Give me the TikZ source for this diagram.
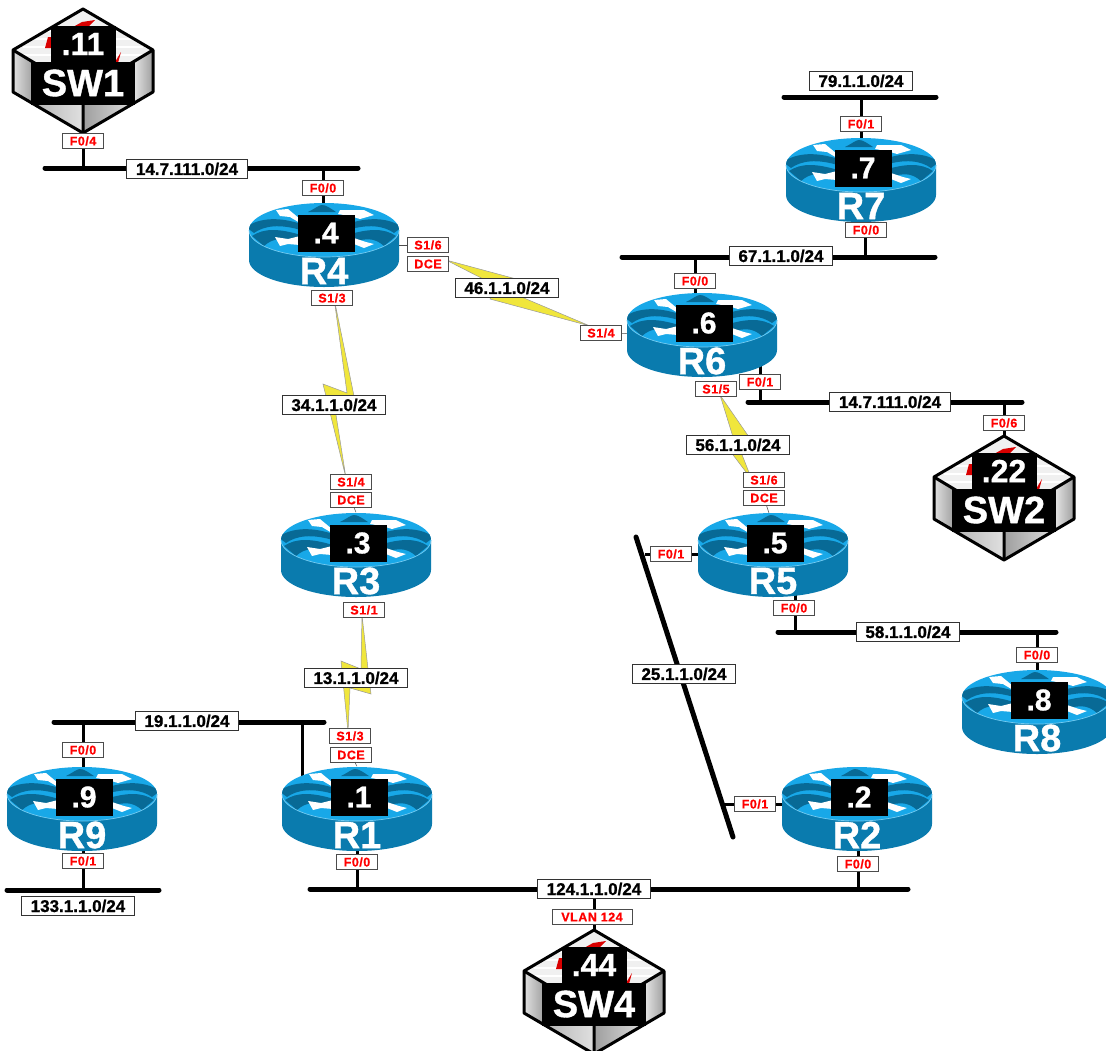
\documentclass[tikz,border=0pt]{standalone}
\usepackage{fontspec}
\setmainfont[BoldFeatures={FakeBold=1}]{Liberation Sans}
\usetikzlibrary{positioning}
\definecolor{routerbody}{HTML}{0A7BAE}
\definecolor{routertop}{HTML}{18A8E8}
\definecolor{routerdark}{HTML}{086A96}
\definecolor{boltyellow}{HTML}{F0E63C}
\tikzset{
	ifbox/.style={draw=black!70,line width=1pt,fill=white,text=red,inner sep=0pt,inner xsep=3pt,minimum width=41,minimum height=15,font=\fontsize{12.5}{14}\selectfont\bfseries\addfontfeature{LetterSpace=4}},
	netbox/.style={draw=black!80,line width=1pt,fill=white,text=black,inner sep=0pt,inner xsep=9pt,minimum height=19,font=\fontsize{17}{18}\selectfont\bfseries},
	lanbus/.style={line width=5pt,line cap=round},
	landrop/.style={line width=3pt},
	wanline/.style={line width=0.5pt,black!70},
	wanbolt/.style={fill=boltyellow,draw=black!40,line width=0.5pt},
	idbox/.style={fill=black,text=white,inner sep=0pt,font=\fontsize{30}{32}\selectfont\bfseries\addfontfeature{FakeBold=2}},
	pics/routerpic/.style 2 args={code={
		\node[minimum width=150,minimum height=85,inner sep=0pt] (-body) at (0,15) {};
		\fill[routerbody] (-75,0) -- (-75,30) arc (180:0:75 and 27) -- (75,0) -- cycle;
		\fill[routertop] (0,0) ellipse (75 and 27);
		\begin{scope}
			\clip (0,0) ellipse (75 and 27);
			\fill[routerdark] (-16,-18) .. controls (-8,-22) and (-5,-25) .. (-2,-25) .. controls (2,-25) and (6,-22) .. (12,-18) -- cycle;
			\foreach \s in {1,-1} {
				\begin{scope}[xscale=\s]
					\fill[routerdark] (-78,-3) .. controls (-65,-12) and (-45,-14) .. (-20,-5) -- (-20,1) .. controls (-45,-7) and (-60,-4) .. (-70,3) -- cycle;
					\fill[routerdark] (-72,6) .. controls (-60,-2) and (-45,-2) .. (-20,6) -- (-20,16) .. controls (-40,7) and (-50,7) .. (-60,16) -- cycle;
				\end{scope}
			}
		\end{scope}
		\fill[white] (-48,-20) -- (-36,-21) -- (-24,-11) -- (-24,-7) -- (-34,-13) -- (-44,-14) -- cycle;
		\fill[white] (-49,7) -- (-36,9) -- (-24,6) -- (-24,15) -- (-36,14) -- (-44,16) -- cycle;
		\fill[white] (14,-16) -- (16,-20) -- (40,-20) -- (50,-15) -- (36,-11) -- (26,-14) -- cycle;
		\fill[white] (30,8) -- (42,12) -- (50,14) -- (40,18) -- (30,14) -- cycle;
		\draw[routertop!60!white,line width=0.7pt] (-75,0) arc (180:0:75 and 27);
		\node[idbox,minimum width=57,minimum height=37] (-id) at (2,3) {#1};
		\node[text=white,inner sep=0pt,font=\fontsize{38}{40}\selectfont\bfseries\addfontfeature{FakeBold=2}] (-name) at (0,41) {#2};
	}},
	pics/switchpic/.style 2 args={code={
		\node[minimum width=140,minimum height=124,inner sep=0pt] (-body) at (0,0) {};
		\fill[black!6] (0,-62) -- (70,-21) -- (0,21) -- (-70,-21) -- cycle;
		\foreach \y in {-40,-32,-24,-16,-8} {
			\draw[white,line width=1.5pt] (-60,\y) -- (60,\y);
		}
		\fill[red!85!black] (-10,-44) -- (-1,-49) -- (12,-51) -- (5,-44) -- cycle;
		\fill[red!85!black] (-38,-23) -- (-35,-34) -- (-31,-34) -- (-31,-23) -- cycle;
		\fill[red!85!black] (32,-9) -- (38,-19) -- (35,-8) -- cycle;
		\fill[left color=black!12,right color=black!35] (-70,-21) -- (-52,-10) -- (-52,32) -- (-70,21) -- cycle;
		\fill[left color=black!30,right color=black!12] (-52,10) -- (0,10) -- (0,62) -- (-52,32) -- cycle;
		\fill[left color=black!38,right color=black!12] (52,10) -- (0,10) -- (0,62) -- (52,32) -- cycle;
		\fill[left color=black!12,right color=black!38] (70,-21) -- (52,-10) -- (52,32) -- (70,21) -- cycle;
		\draw[line width=3pt,line join=round] (0,-62) -- (70,-21) -- (70,21) -- (0,62) -- (-70,21) -- (-70,-21) -- cycle;
		\draw[line width=3pt] (-70,-21) -- (0,21) -- (70,-21) (0,21) -- (0,62);
		\node[idbox,minimum width=65,minimum height=36,font=\fontsize{32}{34}\selectfont\bfseries\addfontfeature{FakeBold=2}] (-id) at (0,-27) {#1};
		\node[idbox,minimum width=104,minimum height=43,font=\fontsize{38}{40}\selectfont\bfseries\addfontfeature{FakeBold=2}] (-name) at (0,12) {#2};
	}}
}
\begin{document}
\begin{tikzpicture}[x=1pt,y=-1pt]
	\useasboundingbox (0,0) rectangle (1106,1050);
	\coordinate (n14a) at (45,168);
	\coordinate (n14b) at (358,168);
	\coordinate (n79a) at (784,97);
	\coordinate (n79b) at (936,97);
	\coordinate (n67a) at (622,257);
	\coordinate (n67b) at (935,257);
	\coordinate (m14a) at (748,402);
	\coordinate (m14b) at (1022,402);
	\coordinate (n58a) at (778,632);
	\coordinate (n58b) at (1056,632);
	\coordinate (n25a) at (636,537);
	\coordinate (n25b) at (733,837);
	\coordinate (n19a) at (54,722);
	\coordinate (n19b) at (324,722);
	\coordinate (n133a) at (7,890);
	\coordinate (n133b) at (159,890);
	\coordinate (n124a) at (310,889);
	\coordinate (n124b) at (908,889);
	\coordinate (tsw1) at (83,168);
	\coordinate (tr4) at (323,168);
	\coordinate (tr7a) at (861,97);
	\coordinate (tr7b) at (865,257);
	\coordinate (tr6a) at (695,257);
	\coordinate (tr6b) at (760,402);
	\coordinate (tsw2) at (1004,402);
	\coordinate (tr5a) at (795,632);
	\coordinate (tr8) at (1037,632);
	\coordinate (tr5b) at (645,554);
	\coordinate (tr2a) at (723,804);
	\coordinate (tr9a) at (83,722);
	\coordinate (tr1a) at (302,722);
	\coordinate (tr9b) at (83,890);
	\coordinate (tr1b) at (357,889);
	\coordinate (tr2b) at (858,889);
	\coordinate (tsw4) at (594,889);

	\path[lanbus] (n14a) edge (n14b);
	\path[lanbus] (n79a) edge (n79b);
	\path[lanbus] (n67a) edge (n67b);
	\path[lanbus] (m14a) edge (m14b);
	\path[lanbus] (n58a) edge (n58b);
	\path[lanbus] (n25a) edge (n25b);
	\path[lanbus] (n19a) edge (n19b);
	\path[lanbus] (n133a) edge (n133b);
	\path[lanbus] (n124a) edge (n124b);

	\fill[wanbolt] (334,298) -- (354,396) -- (333,396) -- (346,478) -- (323,384) -- (347,393) -- cycle;
	\fill[wanbolt] (446,260) -- (520,280) -- (505,290) -- (590,326) -- (490,299) -- (495,285) -- cycle;
	\fill[wanbolt] (720,395) -- (749,437) -- (735,437) -- (752,480) -- (718,435) -- (733,437) -- cycle;
	\fill[wanbolt] (362,615) -- (368,669) -- (371,694) -- (350,688) -- (348,732) -- (341,661) -- (361,669) -- cycle;

	\path[landrop] (tr7a) edge (861,150);
	\path[landrop] (tr7b) edge (865,210);
	\path[landrop] (tsw1) edge (83,120);
	\path[landrop] (tsw2) edge (1004,450);
	\path[landrop] (tsw4) edge (594,945);
	\path[landrop] (tr4) edge (323,215);
	\path[landrop] (tr6a) edge (695,305);
	\path[landrop] (tr6b) edge (760,360);
	\path[landrop] (tr5a) edge (795,585);
	\path[landrop] (tr8) edge (1037,680);
	\path[landrop] (tr5b) edge (700,554);
	\path[landrop] (tr2a) edge (784,804);
	\path[landrop] (tr9a) edge (83,780);
	\path[landrop] (tr1a) edge (302,785);
	\path[landrop] (tr9b) edge (83,840);
	\path[landrop] (tr1b) edge (357,840);
	\path[landrop] (tr2b) edge (858,840);

	\pic (sw1) at (83,71) {switchpic={.11}{SW1}};
	\pic (sw2) at (1004,498) {switchpic={.22}{SW2}};
	\pic (sw4) at (594,992) {switchpic={.44}{SW4}};
	\pic (r7) at (861,165) {routerpic={.7}{R7}};
	\pic (r4) at (324,230) {routerpic={.4}{R4}};
	\pic (r6) at (702,320) {routerpic={.6}{R6}};
	\pic (r3) at (356,540) {routerpic={.3}{R3}};
	\pic (r5) at (773,540) {routerpic={.5}{R5}};
	\pic (r8) at (1037,697) {routerpic={.8}{R8}};
	\pic (r1) at (357,794) {routerpic={.1}{R1}};
	\pic (r2) at (857,794) {routerpic={.2}{R2}};
	\pic (r9) at (82,794) {routerpic={.9}{R9}};

	\node[ifbox] (if4a) at (83,141) {F0/4};
	\node[ifbox] (if4b) at (323,188) {F0/0};
	\node[ifbox] (if4c) at (428,245) {S1/6};
	\node[ifbox] (if4d) at (428,264) {DCE};
	\node[ifbox] (if4e) at (332,298) {S1/3};
	\node[ifbox] (if3a) at (351,482) {S1/4};
	\node[ifbox] (if3b) at (351,500) {DCE};
	\node[ifbox] (if3c) at (364,610) {S1/1};
	\node[ifbox] (if1a) at (350,736) {S1/3};
	\node[ifbox] (if1b) at (351,755) {DCE};
	\node[ifbox] (if1c) at (357,862) {F0/0};
	\node[ifbox] (if9a) at (83,750) {F0/0};
	\node[ifbox] (if9b) at (83,861) {F0/1};
	\node[ifbox] (if7a) at (861,124) {F0/1};
	\node[ifbox] (if7b) at (866,230) {F0/0};
	\node[ifbox] (if6a) at (695,281) {F0/0};
	\node[ifbox] (if6b) at (601,333) {S1/4};
	\node[ifbox] (if6c) at (760,382) {F0/1};
	\node[ifbox] (if6d) at (716,389) {S1/5};
	\node[ifbox] (ifs2) at (1004,423) {F0/6};
	\node[ifbox] (if5a) at (764,480) {S1/6};
	\node[ifbox] (if5b) at (764,498) {DCE};
	\node[ifbox] (if5c) at (671,554) {F0/1};
	\node[ifbox] (if5d) at (794,608) {F0/0};
	\node[ifbox] (if8a) at (1037,655) {F0/0};
	\node[ifbox] (if2a) at (755,804) {F0/1};
	\node[ifbox] (if2b) at (858,864) {F0/0};
	\node[ifbox,minimum width=80] (ifs4) at (592,917) {VLAN 124};

	\path[wanline] (r4-body.east) edge (if4c);
	\path[wanline] (r6-body) edge (if6b);
	\path[wanline] (if3b) edge (r3-body.north);
	\path[wanline] (if5b) edge (769,513);
	\path[wanline] (if1b) edge (r1-body.north);

	\node[netbox] (lan14a) at (187,169) {14.7.111.0/24};
	\node[netbox] (lan79) at (861,81) {79.1.1.0/24};
	\node[netbox] (lan67) at (781,256) {67.1.1.0/24};
	\node[netbox] (wan46) at (507,288) {46.1.1.0/24};
	\node[netbox] (lan14b) at (890,402) {14.7.111.0/24};
	\node[netbox] (wan34) at (334,405) {34.1.1.0/24};
	\node[netbox] (wan56) at (738,445) {56.1.1.0/24};
	\node[netbox] (lan58) at (908,632) {58.1.1.0/24};
	\node[netbox] (lan25) at (684,674) {25.1.1.0/24};
	\node[netbox] (wan13) at (356,678) {13.1.1.0/24};
	\node[netbox] (lan19) at (187,721) {19.1.1.0/24};
	\node[netbox] (lan124) at (594,889) {124.1.1.0/24};
	\node[netbox] (lan133) at (78,906) {133.1.1.0/24};
\end{tikzpicture}
\end{document}
